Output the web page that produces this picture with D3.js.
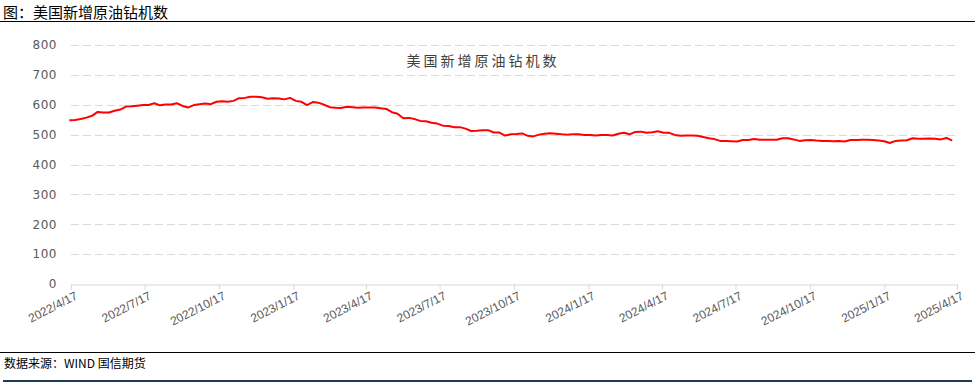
<!DOCTYPE html>
<html>
<head>
<meta charset="utf-8">
<script src="https://cdn.jsdelivr.net/npm/d3@7"></script>
<style>
  body { margin: 0; background: #fff; }
  svg { display: block; }
  .grid line { stroke: #d9d9d9; stroke-dasharray: 8,4; }
</style>
</head>
<body>
<svg id="chart" width="975" height="387"></svg>
<script>
// weekly US oil rig count, first week 2022/4/15
var startDate = "2022-04-15";
var rigValues = [
  548, 549, 552, 557, 563, 576, 574, 574, 580, 584, 594, 595, 597, 599, 599, 605,
  598, 601, 601, 605, 596, 591, 599, 602, 604, 602, 610, 612, 610, 613, 622, 623,
  627, 627, 625, 620, 622, 621, 618, 623, 613, 610, 599, 609, 607, 600, 592, 590,
  589, 593, 592, 590, 591, 591, 591, 588, 586, 575, 570, 555, 556, 552, 546, 545,
  540, 537, 530, 529, 525, 525, 520, 512, 513, 515, 515, 507, 507, 497, 501, 502,
  504, 496, 494, 500, 503, 505, 503, 501, 500, 501, 501, 499, 499, 497, 499, 499,
  497, 503, 506, 501, 509, 510, 506, 508, 511, 506, 506, 499, 496, 497, 497, 496,
  492, 488, 485, 479, 479, 478, 477, 482, 482, 485, 483, 483, 483, 483, 488, 488,
  484, 479, 481, 482, 480, 479, 479, 478, 479, 477, 482, 482, 483, 483, 482, 480,
  478, 472, 479, 480, 481, 488, 486, 486, 487, 486, 484, 489, 480
];
var tickLabels = ["2022/4/17", "2022/7/17", "2022/10/17", "2023/1/17", "2023/4/17",
  "2023/7/17", "2023/10/17", "2024/1/17", "2024/4/17", "2024/7/17", "2024/10/17",
  "2025/1/17", "2025/4/17"];
var yTicks = [0, 100, 200, 300, 400, 500, 600, 700, 800];

var chartTitle = "美国新增原油钻机数",
    figTitle = "图：美国新增原油钻机数",
    sourceText = "数据来源：WIND  国信期货";

function drawChart() {
  var svg = d3.select("#chart"),
      W = 975,
      plotLeft = 71, plotRight = 957, plotTop = 45, plotBottom = 284;

  var parseDay = d3.timeParse("%Y-%m-%d"),
      parseTick = d3.timeParse("%Y/%m/%d");

  var t0 = parseDay(startDate);
  var series = rigValues.map(function(v, i) {
    return { date: d3.timeDay.offset(t0, 7 * i), value: v };
  });
  var tickDates = tickLabels.map(function(s) { return parseTick(s); });

  var x = d3.scaleTime()
    .domain([tickDates[0], tickDates[tickDates.length - 1]])
    .range([plotLeft, plotRight]);
  var y = d3.scaleLinear().domain([0, 800]).range([plotBottom, plotTop]);

  // figure title + rule
  svg.append("text")
    .attr("x", 3).attr("y", 18)
    .attr("font-family", "'Noto Sans CJK SC'")
    .attr("font-size", 15)
    .attr("fill", "#000")
    .text(figTitle);
  svg.append("line")
    .attr("x1", 0).attr("x2", W).attr("y1", 21.5).attr("y2", 21.5)
    .attr("stroke", "#000").attr("stroke-width", 1);

  // gridlines
  svg.append("g").attr("class", "grid")
    .selectAll("line")
    .data(yTicks.filter(function(d) { return d > 0; }))
    .enter().append("line")
    .attr("x1", plotLeft).attr("x2", plotRight)
    .attr("y1", function(d) { return Math.round(y(d)) + 0.5; })
    .attr("y2", function(d) { return Math.round(y(d)) + 0.5; });

  // y axis labels
  var yAxis = svg.append("g")
    .attr("transform", "translate(" + (plotLeft - 14) + ",0)")
    .call(d3.axisLeft(y).tickValues(yTicks).tickSize(0).tickPadding(0));
  yAxis.select(".domain").remove();
  yAxis.selectAll("text")
    .attr("font-family", "'DejaVu Sans'")
    .attr("font-size", 12)
    .attr("letter-spacing", 0.5)
    .attr("fill", "#595959");

  // x axis
  var xAxis = svg.append("g")
    .attr("transform", "translate(0," + (plotBottom + 0.5) + ")")
    .call(d3.axisBottom(x).tickValues(tickDates).tickSize(5)
      .tickFormat(function(d, i) { return tickLabels[i]; }));
  xAxis.select(".domain").attr("stroke", "#d9d9d9");
  xAxis.selectAll(".tick line").attr("stroke", "#d9d9d9");
  xAxis.selectAll("text")
    .attr("font-family", "'Liberation Sans'")
    .attr("font-size", 12)
    .attr("fill", "#595959")
    .attr("text-anchor", "end")
    .attr("dy", 0)
    .attr("y", 0).attr("x", 0)
    .attr("transform", "translate(7,14) rotate(-27)");

  // chart title
  svg.append("text")
    .attr("x", 483).attr("y", 66)
    .attr("text-anchor", "middle")
    .attr("font-family", "'Noto Sans CJK SC'")
    .attr("font-size", 14)
    .attr("letter-spacing", 3)
    .attr("fill", "#404040")
    .text(chartTitle);

  // line
  var line = d3.line()
    .x(function(d) { return x(d.date); })
    .y(function(d) { return y(d.value); });
  svg.append("path")
    .datum(series)
    .attr("d", line)
    .attr("fill", "none")
    .attr("stroke", "#ff0000")
    .attr("stroke-width", 2)
    .attr("stroke-linejoin", "round");

  // footer
  svg.append("line")
    .attr("x1", 0).attr("x2", W).attr("y1", 352.5).attr("y2", 352.5)
    .attr("stroke", "#000").attr("stroke-width", 1);
  svg.append("text")
    .attr("x", 4).attr("y", 368)
    .attr("font-family", "'Noto Sans CJK SC'")
    .attr("font-size", 12)
    .attr("fill", "#000")
    .text(sourceText);
  svg.append("rect")
    .attr("x", 3).attr("y", 380).attr("width", 969).attr("height", 2)
    .attr("fill", "#1f3b5c");
}

drawChart();
</script>
</body>
</html>
